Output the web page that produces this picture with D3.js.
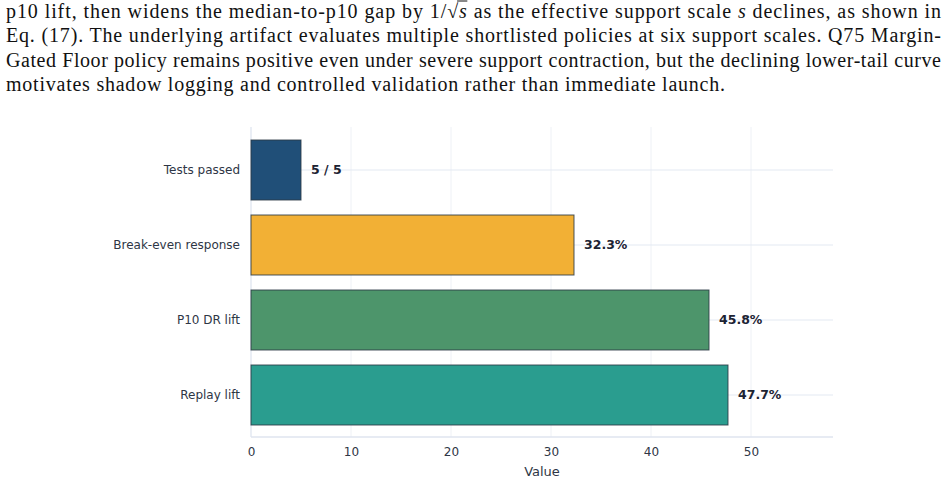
<!DOCTYPE html>
<html><head><meta charset="utf-8">
<script src="https://cdn.jsdelivr.net/npm/d3@7"></script>
<style>
html,body{margin:0;padding:0;background:#fff;}
svg{display:block;}
</style></head>
<body>
<svg id="chart" width="948" height="483"></svg>
<script>
// ---- data ----
const categories = ["Tests passed", "Break-even response", "P10 DR lift", "Replay lift"];
const values = [5, 32.3, 45.8, 47.7];
const valueLabels = ["5 / 5", "32.3%", "45.8%", "47.7%"];
const barColors = ["#204f78", "#f2b035", "#4d956b", "#2a9d8f"];
const xTicks = [0, 10, 20, 30, 40, 50];
const xTitle = "Value";
const paragraphLines = [
  ["p10 lift, then widens the median-to-p10 gap by 1/", "√", {i:"s"}, " as the effective support scale ", {i:"s"}, " declines, as shown in"],
  ["Eq. (17). The underlying artifact evaluates multiple shortlisted policies at six support scales. Q75 Margin-"],
  ["Gated Floor policy remains positive even under severe support contraction, but the declining lower-tail curve"],
  ["motivates shadow logging and controlled validation rather than immediate launch."]
];

const svg = d3.select("#chart");

// ---- paragraph text ----
const lineX = 6, lineW = [935, 935, 935, 719], baselines = [17.5, 42, 66.8, 91.3];
paragraphLines.forEach((parts, li) => {
  const t = svg.append("text")
    .attr("x", lineX).attr("y", baselines[li])
    .attr("font-family", "'Liberation Serif','DejaVu Serif',serif")
    .attr("font-size", 20).attr("fill", "#111")
    .attr("textLength", lineW[li]).attr("lengthAdjust", "spacing");
  parts.forEach(p => {
    if (typeof p === "string") t.append("tspan").text(p);
    else t.append("tspan").attr("font-style", "italic").text(p.i);
  });
  if (li === 0) {
    // overline for the square root
    const node = t.node();
    const full = parts.map(p => typeof p === "string" ? p : p.i).join("");
    const ri = full.indexOf("√");
    try {
      const r = node.getExtentOfChar(ri);
      const s = node.getExtentOfChar(ri + 1);
      svg.append("line")
        .attr("x1", r.x + r.width - 1).attr("x2", s.x + s.width + 0.5)
        .attr("y1", r.y + 1.5).attr("y2", r.y + 1.5)
        .attr("stroke", "#111").attr("stroke-width", 1);
    } catch (e) {}
  }
});

// ---- chart ----
const plotLeft = 251, plotRight = 833, plotTop = 127, plotBottom = 437;
const x = d3.scaleLinear().domain([0, 58.2]).range([plotLeft, plotRight]);
const y = d3.scaleBand().domain(categories).range([132.5, 432.5]).paddingInner(0.2).paddingOuter(0.1);

// vertical grid
svg.append("g").selectAll("line").data(xTicks.slice(1).concat([55]).filter(v=>x(v)<plotRight))
  .join("line")
  .attr("x1", d => x(d)).attr("x2", d => x(d))
  .attr("y1", plotTop).attr("y2", plotBottom)
  .attr("stroke", "#eef1f6").attr("stroke-width", 1)
  .attr("opacity", d => xTicks.includes(d) ? 1 : 0);

// horizontal grid at category centres
svg.append("g").selectAll("line").data(categories).join("line")
  .attr("x1", plotLeft).attr("x2", plotRight)
  .attr("y1", d => y(d) + y.bandwidth()/2).attr("y2", d => y(d) + y.bandwidth()/2)
  .attr("stroke", "#e3e9f2").attr("stroke-width", 1);

// axis lines
svg.append("line").attr("x1", plotLeft).attr("x2", plotLeft).attr("y1", plotTop).attr("y2", plotBottom)
  .attr("stroke", "#e3e9f2").attr("stroke-width", 1.5);
svg.append("line").attr("x1", plotLeft).attr("x2", plotRight).attr("y1", plotBottom).attr("y2", plotBottom)
  .attr("stroke", "#dfe5ef").attr("stroke-width", 1.5);

// bars
svg.append("g").selectAll("rect").data(categories).join("rect")
  .attr("x", x(0))
  .attr("y", d => y(d))
  .attr("width", (d, i) => x(values[i]) - x(0))
  .attr("height", y.bandwidth())
  .attr("fill", (d, i) => barColors[i])
  .attr("stroke", "#2b3a44").attr("stroke-opacity", 0.85).attr("stroke-width", 1);

// value labels
svg.append("g").selectAll("text").data(categories).join("text")
  .attr("x", (d, i) => x(values[i]) + 10)
  .attr("y", d => y(d) + y.bandwidth()/2)
  .attr("dy", "0.35em")
  .attr("font-family", "'DejaVu Sans',sans-serif").attr("font-size", 12.5).attr("font-weight", "bold")
  .attr("fill", "#1c2333")
  .text((d, i) => valueLabels[i]);

// y axis (category labels)
const yAxis = d3.axisLeft(y).tickSize(0).tickPadding(11);
const gy = svg.append("g").attr("transform", `translate(${plotLeft},0)`).call(yAxis);
gy.select(".domain").remove();
gy.selectAll("text").attr("font-family", "'DejaVu Sans',sans-serif").attr("font-size", 12).attr("fill", "#2e3645");

// x axis
const xAxis = d3.axisBottom(x).tickValues(xTicks).tickSize(0).tickPadding(10).tickFormat(d3.format("d"));
const gx = svg.append("g").attr("transform", `translate(0,${plotBottom})`).call(xAxis);
gx.select(".domain").remove();
gx.selectAll("text").attr("font-family", "'DejaVu Sans',sans-serif").attr("font-size", 12).attr("fill", "#2e3645");

svg.append("text").attr("x", (plotLeft + plotRight)/2).attr("y", 476)
  .attr("text-anchor", "middle")
  .attr("font-family", "'DejaVu Sans',sans-serif").attr("font-size", 13).attr("fill", "#2e3645")
  .text(xTitle);
</script>
</body></html>
